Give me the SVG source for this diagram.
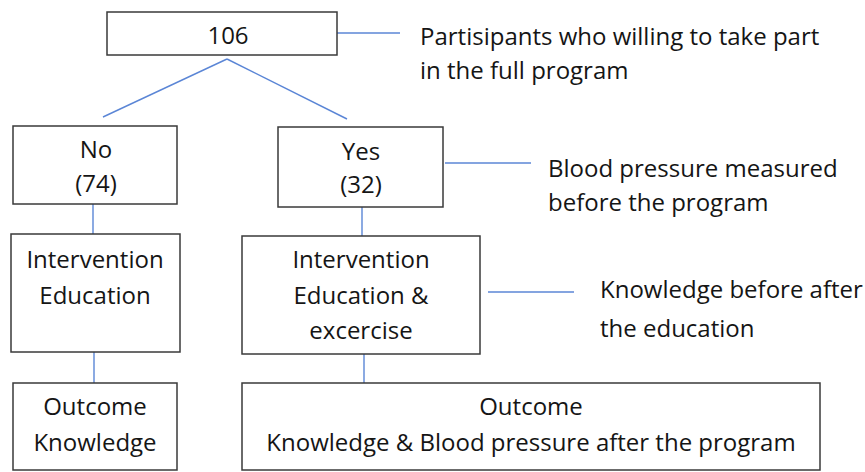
<svg xmlns="http://www.w3.org/2000/svg" width="865" height="472" viewBox="0 0 865 472">
<style>
.box{fill:#fff;stroke:#3a3a3a;stroke-width:1.5}
.ln{stroke:#5b86d6;stroke-width:1.4;fill:none}
text{font-family:"Open Sans","Liberation Sans",Arial,sans-serif;font-size:24px;font-weight:500;fill:#151515}
.c{text-anchor:middle}
</style>
<rect width="865" height="472" fill="#fff"/>
<g id="connectors">
<line class="ln" x1="337" y1="33" x2="400" y2="33"/>
<line class="ln" x1="227" y1="59" x2="103" y2="117"/>
<line class="ln" x1="227" y1="59" x2="347" y2="119"/>
<line class="ln" x1="445" y1="163" x2="531" y2="163"/>
<line class="ln" x1="93" y1="204" x2="93" y2="234"/>
<line class="ln" x1="362" y1="207" x2="362" y2="236"/>
<line class="ln" x1="488" y1="292" x2="574" y2="292"/>
<line class="ln" x1="94" y1="352" x2="94" y2="383"/>
<line class="ln" x1="364" y1="354" x2="364" y2="383"/>
</g>
<g id="n106">
<rect class="box" x="107" y="12" width="230" height="43"/>
<text class="c" x="228" y="44">106</text>
</g>
<g id="note1">
<text x="420" y="45">Partisipants who willing to take part</text>
<text x="420" y="79">in the full program</text>
</g>
<g id="no">
<rect class="box" x="13" y="126" width="164" height="78"/>
<text class="c" x="96" y="158">No</text>
<text class="c" x="96" y="192">(74)</text>
</g>
<g id="yes">
<rect class="box" x="278" y="127" width="165" height="80"/>
<text class="c" x="361" y="160">Yes</text>
<text class="c" x="361" y="193">(32)</text>
</g>
<g id="note2">
<text x="548" y="177">Blood pressure measured</text>
<text x="548" y="211">before the program</text>
</g>
<g id="intLeft">
<rect class="box" x="11" y="234" width="169" height="118"/>
<text class="c" x="95" y="268">Intervention</text>
<text class="c" x="95" y="304">Education</text>
</g>
<g id="intRight">
<rect class="box" x="242" y="236" width="238" height="118"/>
<text class="c" x="361" y="268">Intervention</text>
<text class="c" x="361" y="304">Education &amp;</text>
<text class="c" x="361" y="339">excercise</text>
</g>
<g id="note3">
<text x="600" y="298">Knowledge before after</text>
<text x="600" y="337">the education</text>
</g>
<g id="outLeft">
<rect class="box" x="13" y="383" width="164" height="87"/>
<text class="c" x="95" y="415">Outcome</text>
<text class="c" x="95" y="451">Knowledge</text>
</g>
<g id="outRight">
<rect class="box" x="242" y="383" width="578" height="87"/>
<text class="c" x="531" y="415">Outcome</text>
<text class="c" x="531" y="451">Knowledge &amp; Blood pressure after the program</text>
</g>
</svg>
